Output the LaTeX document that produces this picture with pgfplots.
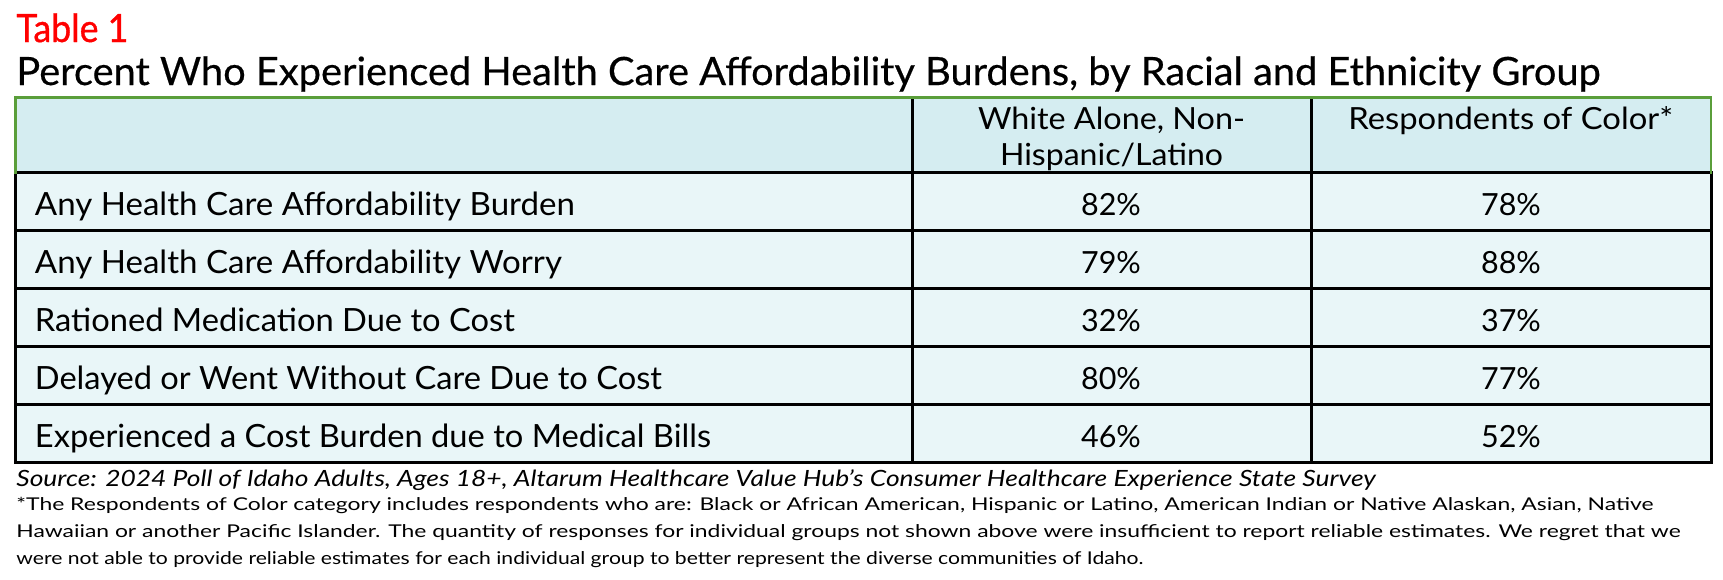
\documentclass[border=0pt]{standalone}
\usepackage{pgfplots}
\pgfplotsset{compat=1.18}
\usepackage{graphicx}
\usepackage{fontspec}
\setmainfont{Lato}
\newfontfamily\titlefont[FakeBold=0.45]{Lato}
\newfontfamily\tabfont[FakeBold=0.9]{Lato}
\definecolor{headfill}{RGB}{213,237,241}
\definecolor{rowfill}{RGB}{233,246,248}
\definecolor{tgreen}{RGB}{90,158,58}
\definecolor{tred}{RGB}{255,0,0}
\newcommand\fitw[2]{\resizebox{#1}{\height}{#2}}
\newcommand\labfont{\fontsize{16}{19}\selectfont}
\newcommand\valfont{\fontsize{15.25}{18}\selectfont}
\newcommand\notefont{\fontsize{8.8}{10}\selectfont}
\begin{document}
\begin{tikzpicture}
\begin{axis}[
  scale only axis, width=861.5pt, height=289.5pt,
  xmin=0, xmax=1723, ymin=0, ymax=579, y dir=reverse,
  hide axis, clip=false,
  /pgf/number format/assume math mode=true,
]
\path (rel axis cs:0,0) rectangle (rel axis cs:1,1);
% cell fills
\fill[headfill] (axis cs:15.7,97.5) rectangle (axis cs:1711,172.5);
\fill[rowfill] (axis cs:15.7,172.5) rectangle (axis cs:1711,463);
% grid
\begin{scope}[line width=1.5pt, line cap=rect]
\draw (axis cs:15.7,172.5) -- (axis cs:1711,172.5);
\draw (axis cs:15.7,230.5) -- (axis cs:1711,230.5);
\draw (axis cs:15.7,288.6) -- (axis cs:1711,288.6);
\draw (axis cs:15.7,346.6) -- (axis cs:1711,346.6);
\draw (axis cs:15.7,404.7) -- (axis cs:1711,404.7);
\draw (axis cs:15.7,462.8) -- (axis cs:1711,462.8);
\draw (axis cs:15.7,172.5) -- (axis cs:15.7,462.8);
\draw (axis cs:1711,172.5) -- (axis cs:1711,462.8);
\draw (axis cs:912,97.5) -- (axis cs:912,462.8);
\draw (axis cs:1311,97.5) -- (axis cs:1311,462.8);
\end{scope}
\begin{scope}[line width=1.3pt, tgreen, line cap=rect]
\draw (axis cs:15.7,172.5) -- (axis cs:15.7,97.5) -- (axis cs:1711,97.5) -- (axis cs:1711,172.5);
\end{scope}
% titles
\node[anchor=base west, inner sep=0pt, text=tred] at (axis cs:16,42)
  {\fitw{56pt}{\fontsize{19.5}{22}\selectfont\tabfont Table 1}};
\node[anchor=base west, inner sep=0pt] at (axis cs:16,85)
  {\fitw{792pt}{\fontsize{19.5}{22}\selectfont\titlefont Percent Who Experienced Health Care Affordability Burdens, by Racial and Ethnicity Group}};
% header
\node[anchor=base, inner sep=0pt] at (axis cs:1111.5,129.3)
  {\fitw{133.5pt}{\valfont White Alone, Non-}};
\node[anchor=base, inner sep=0pt] at (axis cs:1111.5,165.7)
  {\fitw{111.5pt}{\valfont Hispanic/Latino}};
\node[anchor=base, inner sep=0pt] at (axis cs:1510.7,129.3)
  {\fitw{162.4pt}{\valfont Respondents of Color*}};
% row labels
\node[anchor=base west, inner sep=0pt] at (axis cs:34.5,215)
  {\fitw{270pt}{\labfont Any Health Care Affordability Burden}};
\node[anchor=base west, inner sep=0pt] at (axis cs:34.5,273)
  {\fitw{263.5pt}{\labfont Any Health Care Affordability Worry}};
\node[anchor=base west, inner sep=0pt] at (axis cs:34.5,331)
  {\fitw{240pt}{\labfont Rationed Medication Due to Cost}};
\node[anchor=base west, inner sep=0pt] at (axis cs:34.5,389)
  {\fitw{313.5pt}{\labfont Delayed or Went Without Care Due to Cost}};
\node[anchor=base west, inner sep=0pt] at (axis cs:34.5,447)
  {\fitw{338pt}{\labfont Experienced a Cost Burden due to Medical Bills}};
% values
\addplot[only marks, mark=*, mark size=0pt, mark options={draw=none, fill=none},
  point meta=explicit,
  nodes near coords={\pgfmathprintnumber{\pgfplotspointmeta}\%},
  every node near coord/.append style={anchor=base, inner sep=0pt, font=\valfont, text=black}]
  coordinates {(1111,215) [82] (1111,273) [79] (1111,331) [32] (1111,389) [80] (1111,447) [46]};
\addplot[only marks, mark=*, mark size=0pt, mark options={draw=none, fill=none},
  point meta=explicit,
  nodes near coords={\pgfmathprintnumber{\pgfplotspointmeta}\%},
  every node near coord/.append style={anchor=base, inner sep=0pt, font=\valfont, text=black}]
  coordinates {(1511,215) [78] (1511,273) [88] (1511,331) [37] (1511,389) [77] (1511,447) [52]};
% notes
\node[anchor=base west, inner sep=0pt] at (axis cs:16,486)
  {\fitw{679.5pt}{\fontsize{11.2}{13}\selectfont\itshape Source: 2024 Poll of Idaho Adults, Ages 18+, Altarum Healthcare Value Hub's Consumer Healthcare Experience State Survey}};
\node[anchor=base west, inner sep=0pt] at (axis cs:16,510.5)
  {\fitw{818.5pt}{\notefont *The Respondents of Color category includes respondents who are: Black or African American, Hispanic or Latino, American Indian or Native Alaskan, Asian, Native}};
\node[anchor=base west, inner sep=0pt] at (axis cs:16,537.5)
  {\fitw{832pt}{\notefont Hawaiian or another Pacific Islander. The quantity of responses for individual groups not shown above were insufficient to report reliable estimates. We regret that we}};
\node[anchor=base west, inner sep=0pt] at (axis cs:16,564)
  {\fitw{563.5pt}{\notefont were not able to provide reliable estimates for each individual group to better represent the diverse communities of Idaho.}};
\end{axis}
\end{tikzpicture}
\end{document}
